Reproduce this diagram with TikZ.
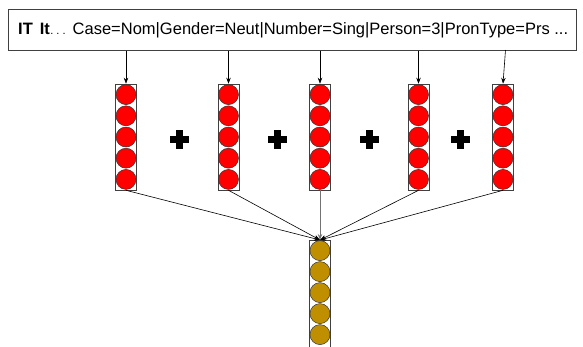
\documentclass[tikz,border=0pt]{standalone}
\usepackage{fontspec}
\setmainfont{Liberation Sans}
\usetikzlibrary{arrows.meta}
\definecolor{gold}{HTML}{BF8F00}
\tikzset{
  colbox/.style={draw=black!75, line width=0.6pt, minimum width=21pt, minimum height=106pt, inner sep=0pt},
  redball/.style={circle, draw=black!80, fill=red, line width=0.5pt, minimum size=20pt, inner sep=0pt},
  goldball/.style={circle, draw=black!80, fill=gold, line width=0.5pt, minimum size=20pt, inner sep=0pt},
  feed/.style={line width=0.6pt, -{Stealth[length=6pt,width=4.5pt]}},
  plussign/.pic={\fill (-9.5,-3.5) rectangle (9.5,3.5); \fill (-3.5,-9.5) rectangle (3.5,9.5);}
}
\begin{document}
\begin{tikzpicture}[x=1pt,y=-1pt]
\useasboundingbox (0,0) rectangle (583,346);
% top box
\node[draw=black!75, line width=0.7pt, minimum width=568pt, minimum height=41pt, inner sep=0pt, anchor=north west] (top) at (8,9) {};
\node[anchor=base west, inner sep=0pt, font=\fontsize{16.5}{19}\selectfont] (txt) at (18,34.5)
  {\textbf{IT}\hspace{7pt}\textbf{It}{\fontsize{11}{11}\selectfont\hspace{0.5pt}.\hspace{3pt}.\hspace{3pt}.}\hspace{1pt} Case=Nom|Gender=Neut|Number=Sing|Person=3|PronType=Prs ...};
% red columns
\foreach \i/\x in {1/126,2/228.5,3/320,4/418.5,5/503}{
  \node[colbox] (c\i) at (\x,137) {};
  \foreach \k in {0,...,4}{
    \node[redball] (c\i b\k) at (\x,{94.6+21.2*\k}) {};
  }
}
% bottom column
\node[colbox, minimum height=116pt, anchor=north] (b) at (320,240) {};
\foreach \k in {0,...,4}{
  \node[goldball] (bb\k) at (320,{250.6+21*\k}) {};
}
% arrows from top box
\coordinate (s5) at (505.5,50);
\foreach \i in {1,2,3,4}{
  \draw[feed] (c\i.north |- top.south) -- (c\i.north);
}
\draw[feed] (s5) -- (c5.north);
% converging
\foreach \i in {1,2,4,5}{
  \draw[feed] (c\i.south) -- (b.north);
}
\draw[feed, draw=black!55, line width=1pt] (c3.south) -- (b.north);
% plus signs
\foreach \x in {179,277,369,460}{
  \pic at (\x,139) {plussign};
}
\end{tikzpicture}
\end{document}
